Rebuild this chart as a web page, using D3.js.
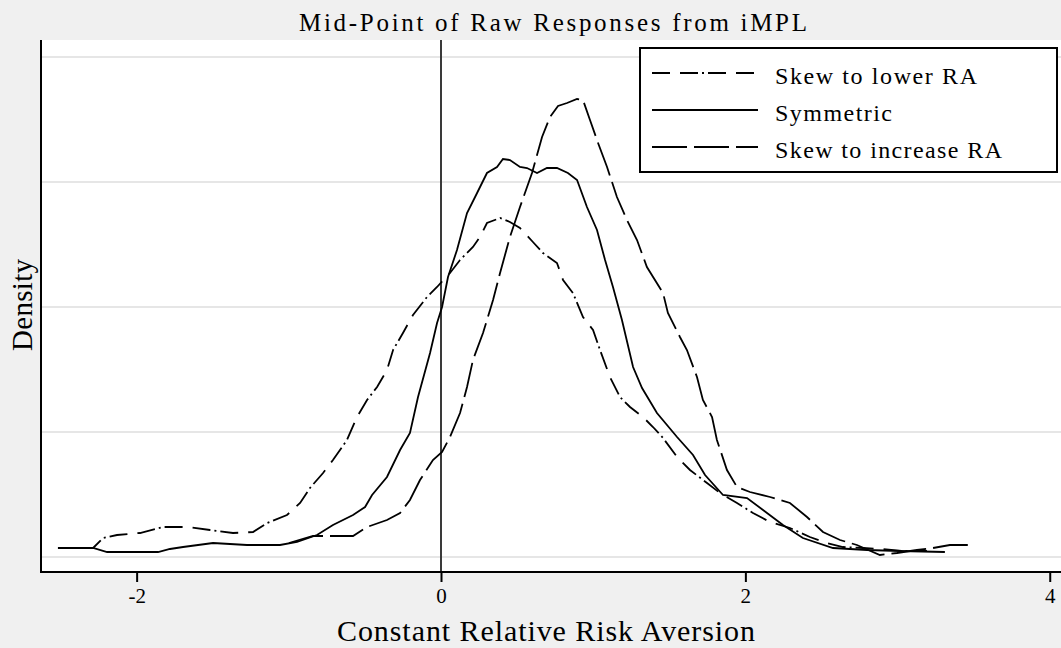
<!DOCTYPE html>
<html>
<head>
<meta charset="utf-8">
<script src="https://cdn.jsdelivr.net/npm/d3@7"></script>
<style>
  body { margin: 0; background: #f0f0f0; }
  svg { display: block; font-family: "Liberation Serif", "DejaVu Serif", serif; }
</style>
</head>
<body>
<div id="chart"></div>
<script>

// Chart text

var chartTitle = "Mid-Point of Raw Responses from iMPL";
var xTitle = "Constant Relative Risk Aversion";
var yTitle = "Density";
var seriesNames = ["Skew to lower RA", "Symmetric", "Skew to increase RA"];

// Axis ticks

var xTicks = [-2, 0, 2, 4];
var yGrid = [0, 0.1, 0.2, 0.3, 0.4];

// Skew to lower RA (dash dot)

var lowerX = [-2.517, -2.286, -2.221, -2.129, -1.978, -1.827, -1.669, -1.518, -1.367, -1.235, -1.143, -1.012, -0.926, -0.861,
    -0.775, -0.710, -0.618, -0.552, -0.486, -0.420, -0.355, -0.315, -0.250, -0.184, -0.092, -0.026, 0.059, 0.125, 0.210,
    0.256, 0.302, 0.388, 0.453, 0.519, 0.604, 0.670, 0.762, 0.802, 0.867, 0.933, 0.999, 1.045, 1.110, 1.176, 1.242, 1.327,
    1.393, 1.459, 1.551, 1.636, 1.748, 1.833, 1.945, 2.050, 2.162, 2.293, 2.424, 2.536, 2.641, 2.773, 2.904, 3.035, 3.193];
var lowerY = [0.0072, 0.0072, 0.0152, 0.0176, 0.0192, 0.0240, 0.0240, 0.0216, 0.0192, 0.0200, 0.0272, 0.0336, 0.0432, 0.0552,
    0.0672, 0.0776, 0.0936, 0.1120, 0.1256, 0.1360, 0.1496, 0.1656, 0.1792, 0.1936, 0.2080, 0.2160, 0.2272, 0.2376, 0.2480,
    0.2560, 0.2672, 0.2712, 0.2680, 0.2632, 0.2520, 0.2432, 0.2352, 0.2216, 0.2112, 0.1920, 0.1816, 0.1656, 0.1440, 0.1280,
    0.1200, 0.1120, 0.1040, 0.0952, 0.0800, 0.0696, 0.0592, 0.0512, 0.0432, 0.0352, 0.0280, 0.0232, 0.0160, 0.0112, 0.0080,
    0.0072, 0.0064, 0.0048, 0.0048];

// Symmetric (solid)

var symX = [-2.517, -2.286, -2.194, -1.859, -1.781, -1.695, -1.498, -1.275, -1.058, -0.946, -0.815, -0.710, -0.578, -0.499,
    -0.453, -0.355, -0.269, -0.204, -0.151, -0.072, -0.026, 0.007, 0.046, 0.105, 0.171, 0.237, 0.302, 0.368, 0.407, 0.453,
    0.519, 0.565, 0.631, 0.696, 0.762, 0.834, 0.894, 0.959, 1.025, 1.078, 1.130, 1.189, 1.262, 1.321, 1.419, 1.551, 1.656,
    1.735, 1.853, 2.011, 2.116, 2.247, 2.378, 2.576, 2.799, 3.016, 3.311];
var symY = [0.0072, 0.0072, 0.0040, 0.0040, 0.0064, 0.0080, 0.0112, 0.0096, 0.0096, 0.0120, 0.0176, 0.0256, 0.0336, 0.0400,
    0.0496, 0.0640, 0.0856, 0.0992, 0.1280, 0.1632, 0.1872, 0.2000, 0.2240, 0.2456, 0.2752, 0.2912, 0.3072, 0.3120, 0.3184,
    0.3176, 0.3120, 0.3112, 0.3072, 0.3112, 0.3112, 0.3072, 0.3016, 0.2800, 0.2616, 0.2376, 0.2160, 0.1896, 0.1520, 0.1352,
    0.1152, 0.0960, 0.0816, 0.0656, 0.0496, 0.0472, 0.0376, 0.0256, 0.0152, 0.0072, 0.0056, 0.0048, 0.0040];

// Skew to increase RA (long dash)

var incX = [-0.999, -0.841, -0.578, -0.486, -0.355, -0.269, -0.204, -0.138, -0.053, 0.007, 0.059, 0.125, 0.171, 0.210, 0.276,
    0.342, 0.388, 0.453, 0.519, 0.598, 0.664, 0.716, 0.769, 0.828, 0.894, 0.933, 0.979, 1.032, 1.091, 1.156, 1.222, 1.288,
    1.353, 1.459, 1.491, 1.570, 1.616, 1.682, 1.721, 1.781, 1.813, 1.879, 1.945, 2.030, 2.162, 2.293, 2.405, 2.510, 2.622,
    2.733, 2.884, 2.996, 3.127, 3.233, 3.344, 3.463];
var incY = [0.0112, 0.0168, 0.0168, 0.0240, 0.0296, 0.0352, 0.0456, 0.0616, 0.0776, 0.0840, 0.0960, 0.1152, 0.1360, 0.1576,
    0.1792, 0.2056, 0.2272, 0.2560, 0.2800, 0.3072, 0.3360, 0.3520, 0.3608, 0.3632, 0.3664, 0.3656, 0.3496, 0.3312, 0.3120,
    0.2880, 0.2696, 0.2536, 0.2320, 0.2112, 0.1952, 0.1760, 0.1656, 0.1440, 0.1256, 0.1120, 0.0936, 0.0696, 0.0560, 0.0520,
    0.0480, 0.0432, 0.0320, 0.0200, 0.0136, 0.0096, 0.0016, 0.0032, 0.0056, 0.0072, 0.0096, 0.0096];

var w = 1061,
    h = 648;

var plotLeft = 40,
    plotRight = 1061,
    plotTop = 40,
    plotBottom = 572;

var svg = d3.select("#chart")
    .append("svg")
    .attr("width", w)
    .attr("height", h);

// Scales

var x = d3.scaleLinear()
    .domain([-2.635, 4.074])
    .range([plotLeft, plotRight]);

var y = d3.scaleLinear()
    .domain([0, 0.4])
    .range([557, 57]);

// Plot region and grid lines

svg.append("rect")
    .attr("x", plotLeft)
    .attr("y", plotTop)
    .attr("width", plotRight - plotLeft)
    .attr("height", plotBottom - plotTop)
    .attr("fill", "#fff");

svg.selectAll(".grid")
    .data(yGrid)
    .enter()
    .append("line")
    .attr("class", "grid")
    .attr("x1", plotLeft)
    .attr("x2", plotRight)
    .attr("y1", function(d) {return y(d);})
    .attr("y2", function(d) {return y(d);})
    .attr("stroke", "#e6e6e6")
    .attr("stroke-width", 2);

// Reference line at zero

svg.append("line")
    .attr("x1", x(0))
    .attr("x2", x(0))
    .attr("y1", plotTop)
    .attr("y2", plotBottom)
    .attr("stroke", "#3a3a3a")
    .attr("stroke-width", 2);

// Curves

var line = d3.line()
    .x(function(d) {return x(d[0]);})
    .y(function(d) {return y(d[1]);});

var series = [
    {xs: lowerX, ys: lowerY, dash: "18,10,18,4,2,4"},
    {xs: symX, ys: symY, dash: null},
    {xs: incX, ys: incY, dash: "35,7"}
];

series.forEach(function(s) {
    svg.append("path")
        .datum(d3.zip(s.xs, s.ys))
        .attr("d", line)
        .attr("fill", "none")
        .attr("stroke", "#000")
        .attr("stroke-width", 1.8)
        .attr("stroke-dasharray", s.dash);
});

// Axes

var xAxis = d3.axisBottom(x)
    .tickValues(xTicks)
    .tickSize(10)
    .tickPadding(6)
    .tickFormat(d3.format("d"));

var gx = svg.append("g")
    .attr("transform", "translate(0," + plotBottom + ")")
    .call(xAxis);

gx.select(".domain").remove();
gx.selectAll(".tick line").attr("stroke", "#000").attr("stroke-width", 2);
gx.selectAll(".tick text")
    .attr("fill", "#000")
    .style("font-size", "21px")
    .style("font-family", "Liberation Serif")
    .text(function(d) {return d < 0 ? "-" + Math.abs(d) : d;});

svg.append("line")
    .attr("x1", plotLeft)
    .attr("x2", plotRight)
    .attr("y1", plotBottom)
    .attr("y2", plotBottom)
    .attr("stroke", "#000")
    .attr("stroke-width", 2);

svg.append("line")
    .attr("x1", plotLeft + 1)
    .attr("x2", plotLeft + 1)
    .attr("y1", plotTop)
    .attr("y2", plotBottom + 1)
    .attr("stroke", "#000")
    .attr("stroke-width", 2);

// Titles

svg.append("text")
    .attr("x", 553)
    .attr("y", 31)
    .attr("text-anchor", "middle")
    .attr("textLength", 508)
    .attr("lengthAdjust", "spacing")
    .style("font-size", "25px")
    .text(chartTitle);

svg.append("text")
    .attr("x", 546)
    .attr("y", 641)
    .attr("text-anchor", "middle")
    .attr("textLength", 418)
    .attr("lengthAdjust", "spacing")
    .style("font-size", "30px")
    .text(xTitle);

svg.append("text")
    .attr("transform", "translate(32,305) rotate(-90)")
    .attr("text-anchor", "middle")
    .attr("textLength", 92)
    .attr("lengthAdjust", "spacing")
    .style("font-size", "29px")
    .text(yTitle);

// Legend

var legend = svg.append("g");

legend.append("rect")
    .attr("x", 640)
    .attr("y", 48)
    .attr("width", 417)
    .attr("height", 124)
    .attr("fill", "#fff")
    .attr("stroke", "#000")
    .attr("stroke-width", 2);

var legendW = [202, 117, 227];

series.forEach(function(s, i) {
    var ly = 73 + i * 37;
    legend.append("line")
        .attr("x1", 652)
        .attr("x2", 758)
        .attr("y1", ly)
        .attr("y2", ly)
        .attr("stroke", "#000")
        .attr("stroke-width", 1.8)
        .attr("stroke-dasharray", s.dash);
    legend.append("text")
        .attr("x", 775)
        .attr("y", ly + 11)
        .attr("textLength", legendW[i])
        .attr("lengthAdjust", "spacing")
        .style("font-size", "24px")
        .text(seriesNames[i]);
});

</script>
</body>
</html>
